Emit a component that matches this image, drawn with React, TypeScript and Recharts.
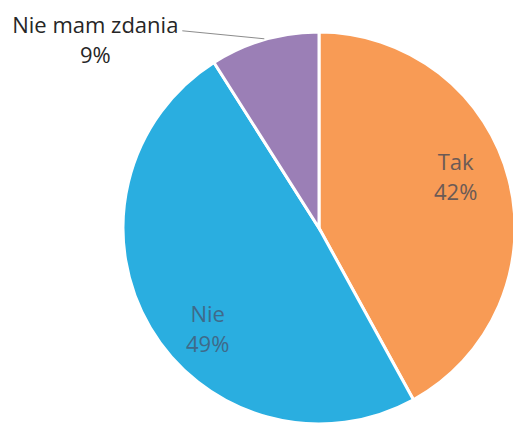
import { PieChart, Pie, Cell } from "recharts";

const nazwy = ["Tak", "Nie", "Nie mam zdania"];
const procenty = [42, 49, 9];
const kolory = ["#F89B55", "#2AAEE0", "#9B7FB6"];

const dane = nazwy.map((nazwa, i) => ({ nazwa, wartosc: procenty[i] }));

const RADIAN = Math.PI / 180;
const czcionka = "'Open Sans', 'Noto Sans', sans-serif";
const rozmiar = 22;

function Etykieta(props: any) {
  const { cx, cy, midAngle, outerRadius, index } = props;
  const nazwa = nazwy[index];
  const tekst = `${procenty[index]}%`;
  const cos = Math.cos(-midAngle * RADIAN);
  const sin = Math.sin(-midAngle * RADIAN);

  if (index === 2) {
    // etykieta poza wykresem z linią odniesienia
    const ex = cx + outerRadius * cos;
    const ey = cy + outerRadius * sin;
    const tx = ex - 169;
    const ty = ey - 14;
    return (
      <g>
        <polyline
          points={`${ex},${ey - 1} ${tx + 87},${ty + 5}`}
          stroke="#8c8c8c"
          strokeWidth={1}
          fill="none"
        />
        <text x={tx} y={ty} textAnchor="middle" fontFamily={czcionka} fontSize={rozmiar} fill="#262626">
          <tspan x={tx} dy="0.35em">{nazwa}</tspan>
          <tspan x={tx} dy={30}>{tekst}</tspan>
        </text>
      </g>
    );
  }

  const r = index === 0 ? outerRadius * 0.72 : outerRadius * 0.66;
  const x = cx + r * cos;
  const y = cy + r * sin + (index === 0 ? -31 : 20);
  const kolor = index === 0 ? "#6b5a55" : "#3f6a8a";
  return (
    <text x={x} y={y} textAnchor="middle" fontFamily={czcionka} fontSize={rozmiar} fill={kolor}>
      <tspan x={x} dy="0.35em">{nazwa}</tspan>
      <tspan x={x} dy={30}>{tekst}</tspan>
    </text>
  );
}

export default function App() {
  return (
    <div style={{ position: "absolute", left: 0, top: 0, width: 513, height: 423, background: "#fff" }}>
      <PieChart width={513} height={423} margin={{ top: 0, right: 0, bottom: 0, left: 0 }}>
        <Pie
          data={dane}
          dataKey="wartosc"
          nameKey="nazwa"
          cx={319}
          cy={228}
          outerRadius={196}
          startAngle={90}
          endAngle={-270}
          stroke="#fff"
          strokeWidth={3}
          label={Etykieta}
          labelLine={false}
          isAnimationActive={false}
        >
          {dane.map((d, i) => (
            <Cell key={d.nazwa} fill={kolory[i]} />
          ))}
        </Pie>
      </PieChart>
    </div>
  );
}
